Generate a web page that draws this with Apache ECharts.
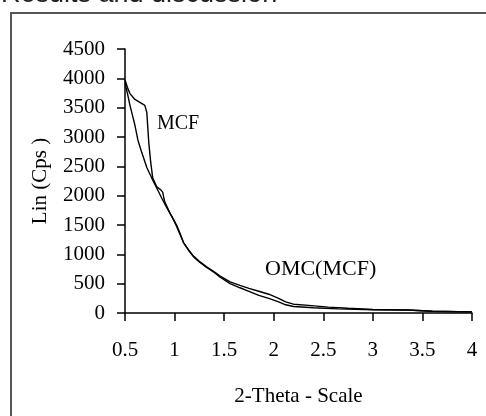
<!DOCTYPE html>
<html>
<head>
<meta charset="utf-8">
<script src="https://cdn.jsdelivr.net/npm/echarts@6/dist/echarts.min.js"></script>
<style>
  html, body { margin: 0; padding: 0; background: #fff; }
  #chart { width: 486px; height: 416px; }
</style>
</head>
<body>
<div id="chart"></div>
<script>
// 2-theta positions and intensities
var mcfTheta = [0.50, 0.53, 0.55, 0.60, 0.65, 0.70, 0.72, 0.74, 0.76, 0.78, 0.82, 0.86, 0.88, 0.90, 0.93,
  0.96, 0.98, 1.00, 1.02, 1.05, 1.09, 1.14, 1.19, 1.25, 1.32, 1.40, 1.46, 1.56, 1.66, 1.75,
  1.85, 1.95, 2.05, 2.12, 2.20, 2.35, 2.55, 2.75, 3.00, 3.35, 3.60, 4.00]
var mcfLin = [3970, 3820, 3740, 3640, 3590, 3540, 3420, 2900, 2560, 2300, 2150, 2100, 2060, 1900, 1790,
  1680, 1620, 1560, 1500, 1380, 1200, 1080, 970, 880, 790, 700, 630, 530, 470, 420,
  370, 320, 250, 190, 150, 130, 100, 80, 60, 50, 30, 20]

var omcTheta = [0.50, 0.53, 0.55, 0.58, 0.60, 0.63, 0.67, 0.72, 0.77, 0.82, 0.87, 0.92, 0.98, 1.02,
  1.05, 1.09, 1.14, 1.19, 1.25, 1.32, 1.40, 1.46, 1.56, 1.66, 1.75, 1.85, 1.95, 2.05,
  2.12, 2.20, 2.40, 2.65, 3.00, 3.35, 3.60, 4.00]
var omcLin = [3930, 3700, 3540, 3340, 3200, 2950, 2730, 2480, 2300, 2130, 1960, 1800, 1620, 1480,
  1360, 1200, 1070, 960, 870, 780, 690, 610, 500, 430, 370, 300, 250, 190,
  140, 110, 90, 70, 55, 50, 30, 20]

var yTicks = [0, 500, 1000, 1500, 2000, 2500, 3000, 3500, 4000, 4500]

function pairs(xs, ys) {
  return xs.map(function(x, i) { return [x, ys[i]] })
}

var serif = '"Liberation Serif", "Times New Roman", serif'

var chart = echarts.init(document.getElementById('chart'))
chart.setOption({
  animation: false,
  backgroundColor: '#fff',
  grid: { left: 125, right: 14, top: 49, bottom: 103 },
  xAxis: {
    type: 'value',
    min: 0.5,
    max: 4,
    interval: 0.5,
    name: '2-Theta - Scale',
    nameLocation: 'middle',
    nameGap: 73,
    nameTextStyle: { fontFamily: serif, fontSize: 21, color: '#000' },
    axisLine: { lineStyle: { color: '#000', width: 1.5 } },
    axisTick: { length: 8, lineStyle: { color: '#000', width: 1.5 } },
    axisLabel: { fontFamily: serif, fontSize: 21, color: '#000', margin: 27, formatter: function(v) { return String(v) } },
    splitLine: { show: false }
  },
  yAxis: {
    type: 'value',
    min: yTicks[0],
    max: yTicks[yTicks.length - 1],
    interval: 500,
    name: 'Lin (Cps )',
    nameLocation: 'middle',
    nameGap: 74,
    nameTextStyle: { fontFamily: serif, fontSize: 21, color: '#000' },
    axisLine: { show: true, lineStyle: { color: '#000', width: 1.5 } },
    axisTick: { show: true, length: 8, lineStyle: { color: '#000', width: 1.5 } },
    axisLabel: { fontFamily: serif, fontSize: 21, color: '#000', margin: 20, formatter: function(v) { return String(v) } },
    splitLine: { show: false }
  },
  series: [
    {
      name: 'MCF',
      type: 'line',
      showSymbol: false,
      data: pairs(mcfTheta, mcfLin),
      lineStyle: { color: '#000', width: 1.4 }
    },
    {
      name: 'OMC(MCF)',
      type: 'line',
      showSymbol: false,
      data: pairs(omcTheta, omcLin),
      lineStyle: { color: '#000', width: 1.4 }
    }
  ],
  graphic: [
    {
      type: 'text',
      x: 1,
      y: 8,
      style: {
        text: 'Results and discussion',
        font: '27px "Liberation Sans", Arial, sans-serif',
        fill: '#222',
        verticalAlign: 'bottom'
      }
    },
    {
      type: 'rect',
      shape: { x: 11, y: 13, width: 600, height: 500 },
      style: { fill: 'none', stroke: '#555', lineWidth: 2 }
    },
    {
      type: 'text',
      left: 157,
      top: 114,
      style: { text: 'MCF', font: '20px "Liberation Serif", serif', fill: '#000' }
    },
    {
      type: 'text',
      left: 265,
      top: 258,
      style: { text: 'OMC(MCF)', font: '22px "Liberation Serif", serif', fill: '#000' }
    }
  ]
})
</script>
</body>
</html>
